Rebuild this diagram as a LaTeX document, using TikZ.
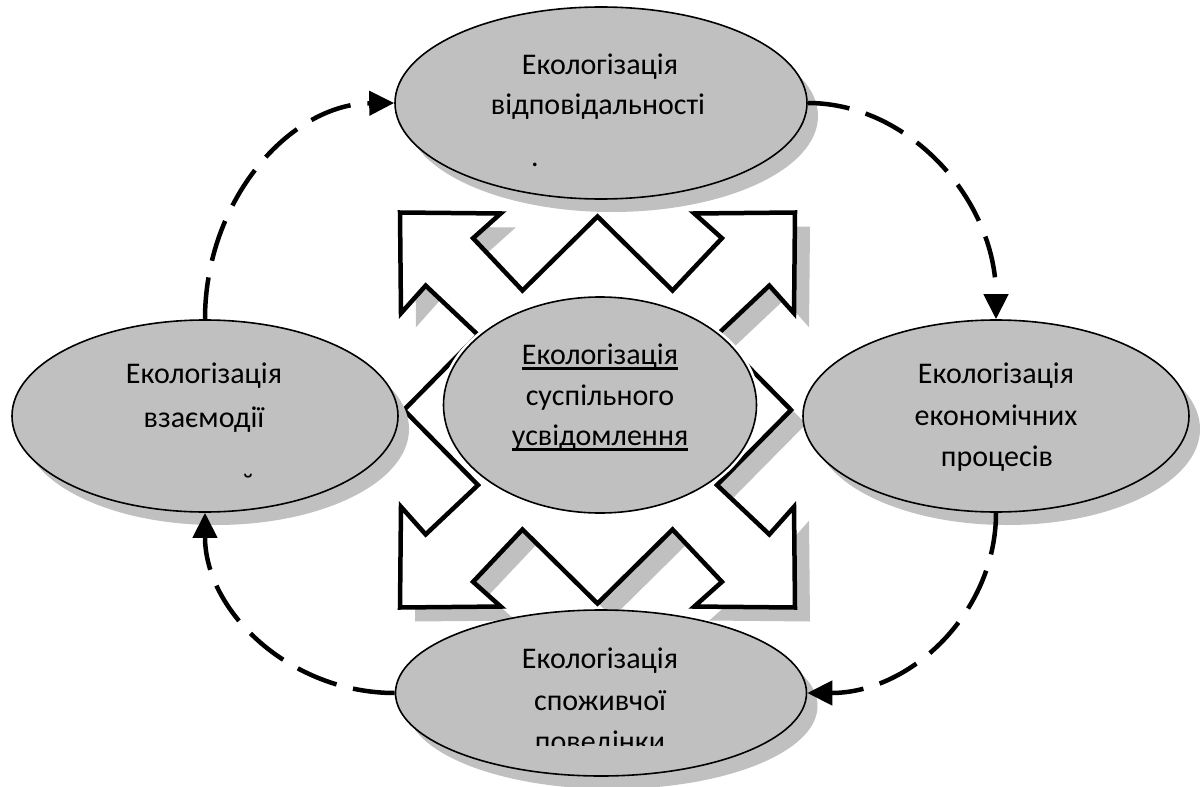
\documentclass[tikz,border=0pt]{standalone}
\usepackage{fontspec}
\setmainfont{Carlito}
\usetikzlibrary{arrows.meta,shapes.geometric}
\definecolor{elgray}{RGB}{192,192,192}
\newcommand{\myul}[1]{\setbox0\hbox{#1}\rlap{\rule[-5.5pt]{\wd0}{2.2pt}}\box0}
\begin{document}
\begin{tikzpicture}[x=1pt,y=-1pt,
  ell/.style={ellipse, draw=black, line width=1.6pt, fill=elgray, inner sep=0pt},
  shad/.style={preaction={fill=elgray, draw=none, transform canvas={shift={(11pt,-13pt)}}}},
  txt/.style={anchor=base, inner sep=0pt, font=\fontsize{30}{36}\selectfont, text=black},
  flow/.style={line width=4.5pt, dash pattern=on 42pt off 17pt, -{Triangle[length=25pt,width=24pt]}},
  qarrow/.pic={\path[pic actions] (0,-196) -- (76,-121) -- (126,-174) -- (98,-199) -- (200,-200) -- (199,-98) -- (174,-126) -- (121,-76) -- (196,0) -- (121,76) -- (174,126) -- (199,98) -- (200,200) -- (98,199) -- (126,174) -- (76,121) -- (0,196) -- (-76,121) -- (-126,174) -- (-98,199) -- (-200,200) -- (-199,98) -- (-174,126) -- (-121,76) -- (-196,0) -- (-121,-76) -- (-174,-126) -- (-199,-98) -- (-200,-200) -- (-98,-199) -- (-126,-174) -- (-76,-121) -- cycle;}
]
\useasboundingbox[fill=white] (0,0) rectangle (1203,787);
% four-way arrow
\pic[fill=elgray, scale=0.9875] at (612.5,424) {qarrow};
\pic[fill=white, draw=black, line width=4.5pt, line join=miter, scale=0.9875] at (597.5,410) {qarrow};
% outer ellipses
\node[ell,shad,minimum width=412pt,minimum height=192pt] (top) at (601,103) {};
\node[ell,shad,minimum width=386pt,minimum height=192pt] (left) at (205,416) {};
\node[ell,shad,minimum width=386pt,minimum height=192pt] (right) at (996,416) {};
\node[ell,shad,minimum width=411pt,minimum height=166pt] (bottom) at (601,693) {};
% centre ellipse
\node[ell,minimum width=313pt,minimum height=216pt,preaction={draw=white,fill=none,line width=7pt}] (centre) at (600,405) {};
% texts
\node[txt] (t1) at (600,74) {Екологізація};
\node[txt] (t2) at (598,114) {відповідальності};
\node[txt] (t3) at (535,166) {.};
\node[txt] (l1) at (204,383) {Екологізація};
\node[txt] (l2) at (204,427) {взаємодії};
\node[txt] (l3) at (248,494) {˘};
\node[txt] (r1) at (996,383) {Екологізація};
\node[txt] (r2) at (996,425) {економічних};
\node[txt] (r3) at (997,466) {процесів};
\node[txt] (c1) at (600,364) {\myul{Екологізація}};
\node[txt] (c2) at (600,405) {суспільного};
\node[txt] (c3) at (600,445) {\myul{усвідомлення}};
\node[txt] (b1) at (600,668) {Екологізація};
\node[txt] (b2) at (600,710) {споживчої};
\begin{scope}
\clip (0,0) rectangle (1203,745);
\node[txt] (b3) at (600,751) {поведінки};
\end{scope}
% dashed cycle
\draw[flow] (left.north) .. controls (205,200) and (290,104) .. (top.west);
\draw[flow] (top.east) .. controls (910,103) and (996,201) .. (right.north);
\draw[flow] (right.south) .. controls (996,612) and (911,693) .. (bottom.east);
\draw[flow] (bottom.west) .. controls (291,693) and (205,612) .. (left.south);
\end{tikzpicture}
\end{document}
